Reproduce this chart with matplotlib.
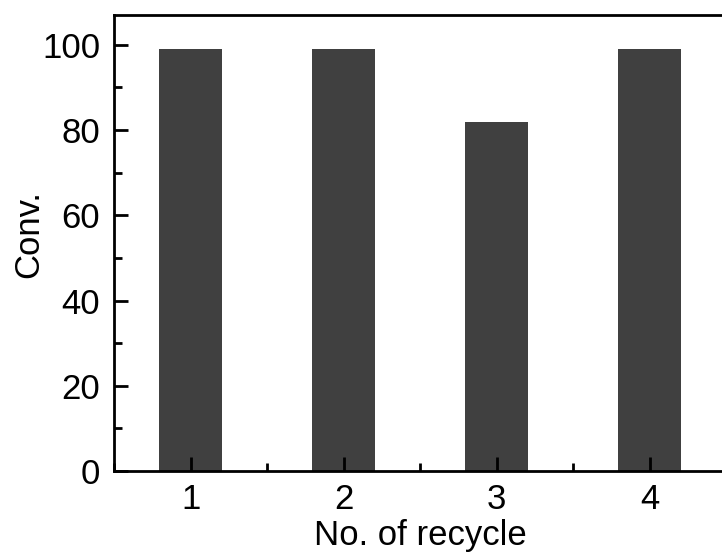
import matplotlib
matplotlib.use("Agg")
from matplotlib import pyplot as plt
from matplotlib.ticker import MultipleLocator

# recycle runs and conversion (%)
cycles = [1, 2, 3, 4]
conversion = [99, 99, 82, 99]

plt.rcParams['font.family'] = ['Liberation Sans', 'DejaVu Sans']

fig = plt.figure(figsize=(7.22, 5.58), dpi=100)
ax = fig.add_axes([0.158, 0.156, 0.848, 0.817])

ax.bar(cycles, conversion, width=0.41, color='#404040')

ax.set_xlim(0.5, 4.5)
ax.set_ylim(0, 107)
ax.xaxis.set_major_locator(MultipleLocator(1))
ax.xaxis.set_minor_locator(MultipleLocator(0.5))
ax.yaxis.set_major_locator(MultipleLocator(20))
ax.yaxis.set_minor_locator(MultipleLocator(10))

for s in ax.spines.values():
    s.set_linewidth(2)
ax.spines['right'].set_visible(False)

ax.tick_params(which='major', direction='in', length=10, width=2, labelsize=25)
ax.tick_params(which='minor', direction='in', length=6, width=2)
ax.tick_params(axis='x', which='major', pad=9)
ax.tick_params(axis='y', which='major', pad=10)

ax.set_xlabel("No. of recycle", fontsize=25, labelpad=2)
ax.set_ylabel("Conv.", fontsize=25)
ax.yaxis.set_label_coords(-0.112, 0.52)

fig.savefig("out.png", dpi=100)
